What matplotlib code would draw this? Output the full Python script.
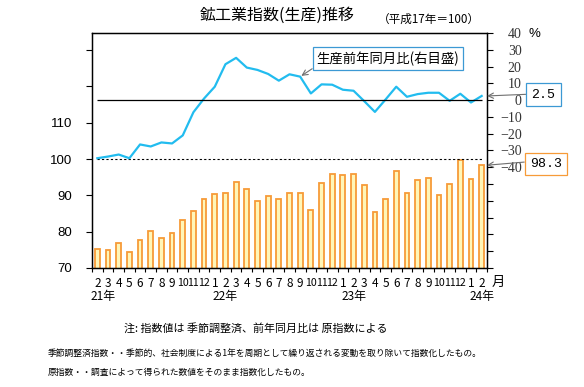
"""鉱工業指数(生産)推移 chart."""

import matplotlib
import matplotlib.pyplot as plt
import matplotlib.transforms as mtransforms
import numpy as np

matplotlib.use("Agg")

plt.rcParams["font.family"] = ["Noto Sans CJK JP", "DejaVu Sans"]

# Feb 2021 .. Feb 2024
months = [2, 3, 4, 5, 6, 7, 8, 9, 10, 11, 12,
          1, 2, 3, 4, 5, 6, 7, 8, 9, 10, 11, 12,
          1, 2, 3, 4, 5, 6, 7, 8, 9, 10, 11, 12,
          1, 2]
year_labels = ["21年", "22年", "23年", "24年"]
year_pos = [0.5, 12, 24, 36]

# seasonally adjusted index (left axis)
index_sa = [75.1, 74.9, 77.0, 74.5, 77.6, 80.1, 78.2, 79.6, 83.3, 85.6, 88.9,
            90.3, 90.7, 93.8, 91.7, 88.5, 89.9, 89.1, 90.6, 90.7, 86.1, 93.3, 95.8,
            95.5, 95.8, 92.8, 85.3, 89.1, 96.8, 90.7, 94.1, 94.9, 90.0, 93.0, 99.7,
            94.4, 98.3]

# year-on-year change, % (right axis)
yoy = [-34.6, -33.6, -32.4, -34.6, -26.4, -27.6, -25.2, -25.8, -21.0, -7.2, 1.0,
       8.0, 21.4, 25.2, 19.4, 18.0, 15.6, 11.6, 15.4, 14.0, 4.0, 9.4, 9.2,
       6.2, 5.6, -0.6, -7.0, 0.4, 8.0, 2.0, 3.6, 4.4, 4.4, -0.4, 3.8,
       -1.4, 2.5]

W, H = 584, 387
BAR_EDGE = "#F79B38"
BAR_FILL = "#FFF6B8"
LINE_C = "#22BCEF"
BLUE_BOX = "#3C99D4"
ARROW_C = "#707070"


def fx(px):
    return px / W


def fy(py):
    return 1 - py / H


fig = plt.figure(figsize=(W / 100, H / 100), dpi=100)
ax = fig.add_axes([fx(92), fy(268), fx(395), 235 / H])
x = np.arange(len(months))

ax.bar(x, index_sa, width=0.45, color=BAR_FILL, edgecolor=BAR_EDGE, linewidth=1.3)
ax.hlines(100, x[0], x[-1], colors="black", linestyles=(0, (2, 2)), linewidth=0.8)
ax.set_xlim(-0.5, len(months) - 0.5)
ax.set_ylim(70, 134.7)
ax.set_yticks([70, 80, 90, 100, 110, 120, 130],
              ["70", "80", "90", "100", "110", "", ""])
ax.tick_params(axis="y", length=4, width=0.8, pad=10, labelsize=9.5,
               labelfontfamily="Liberation Sans")
ax.set_xticks(np.arange(-0.5, len(months), 1.0))
ax.set_xticklabels([])
ax.tick_params(axis="x", length=3, width=0.8)
for s in ax.spines.values():
    s.set_linewidth(1.0)

trans = mtransforms.blended_transform_factory(ax.transData, ax.transAxes)
for i, m in enumerate(months):
    ax.text(i, -0.064, str(m), transform=trans, ha="center", va="center",
            fontsize=8.5 if m < 10 else 7.6)
for lab, p in zip(year_labels, year_pos):
    ax.text(p, -0.123, lab, transform=trans, ha="center", va="center", fontsize=8.6)
fig.text(fx(498), fy(282), "月", ha="center", va="center", fontsize=9.5)

ax2 = ax.twinx()
ax2.plot(x, yoy, color=LINE_C, linewidth=1.6)
ax2.hlines(0, x[0], x[-1], colors="black", linewidth=0.9)
ax2.set_ylim(-100, 40)
rticks = list(range(-100, 41, 10))
ax2.set_yticks(rticks, [(str(t).replace("-", "\u2212") if t >= -40 else "") for t in rticks])
ax2.tick_params(axis="y", length=4, width=0.8, pad=21, labelsize=10,
                labelcolor="#333333", labelfontfamily="Liberation Serif")
for lab in ax2.get_yticklabels():
    lab.set_horizontalalignment("right")
fig.text(fx(534), fy(34), "%", ha="center", va="center", fontsize=9.5,
         family="Liberation Sans")

# callouts
ax2.annotate("生産前年同月比(右目盛)", xy=(19, yoy[19]), xycoords="data",
             xytext=(fx(388), fy(58.5)), textcoords="figure fraction",
             ha="center", va="center", fontsize=9.6,
             bbox=dict(boxstyle="square,pad=0.3", fc="white", ec=BLUE_BOX, lw=0.9),
             arrowprops=dict(arrowstyle="->", color=ARROW_C, lw=0.8,
                             relpos=(0, 0), shrinkA=0, shrinkB=1))
ax2.annotate(f"{yoy[-1]:.1f}", xy=(1.0, yoy[-1]), xycoords=("axes fraction", "data"),
             xytext=(fx(543.5), fy(94.7)), textcoords="figure fraction",
             ha="center", va="center", fontsize=9.5, family="Liberation Mono",
             bbox=dict(boxstyle="square,pad=0.4", fc="white", ec=BLUE_BOX, lw=0.9),
             arrowprops=dict(arrowstyle="->", color=ARROW_C, lw=0.8,
                             relpos=(0, 0.55), shrinkA=0, shrinkB=0))
ax2.annotate(f"{index_sa[-1]:.1f}", xy=(1.0, index_sa[-1]),
             xycoords=("axes fraction", ax.transData),
             xytext=(fx(546), fy(164)), textcoords="figure fraction",
             ha="center", va="center", fontsize=9.5, family="Liberation Mono",
             bbox=dict(boxstyle="square,pad=0.4", fc="white", ec=BAR_EDGE, lw=0.9),
             arrowprops=dict(arrowstyle="->", color=ARROW_C, lw=0.8,
                             relpos=(0, 0.7), shrinkA=0, shrinkB=0))

# titles and notes
fig.text(fx(277), fy(15), "鉱工業指数(生産)推移", ha="center", va="center", fontsize=11.5)
fig.text(fx(429), fy(19), "（平成17年＝100）", ha="center", va="center", fontsize=8.4)
fig.text(fx(256), fy(328), "注: 指数値は 季節調整済、前年同月比は 原指数による",
         ha="center", va="center", fontsize=7.9)
fig.text(fx(48), fy(353),
         "季節調整済指数・・季節的、社会制度による1年を周期として繰り返される変動を取り除いて指数化したもの。",
         ha="left", va="center", fontsize=6.3)
fig.text(fx(48), fy(372), "原指数・・調査によって得られた数値をそのまま指数化したもの。",
         ha="left", va="center", fontsize=6.3)

fig.savefig("out.png", dpi=100)
plt.close(fig)
